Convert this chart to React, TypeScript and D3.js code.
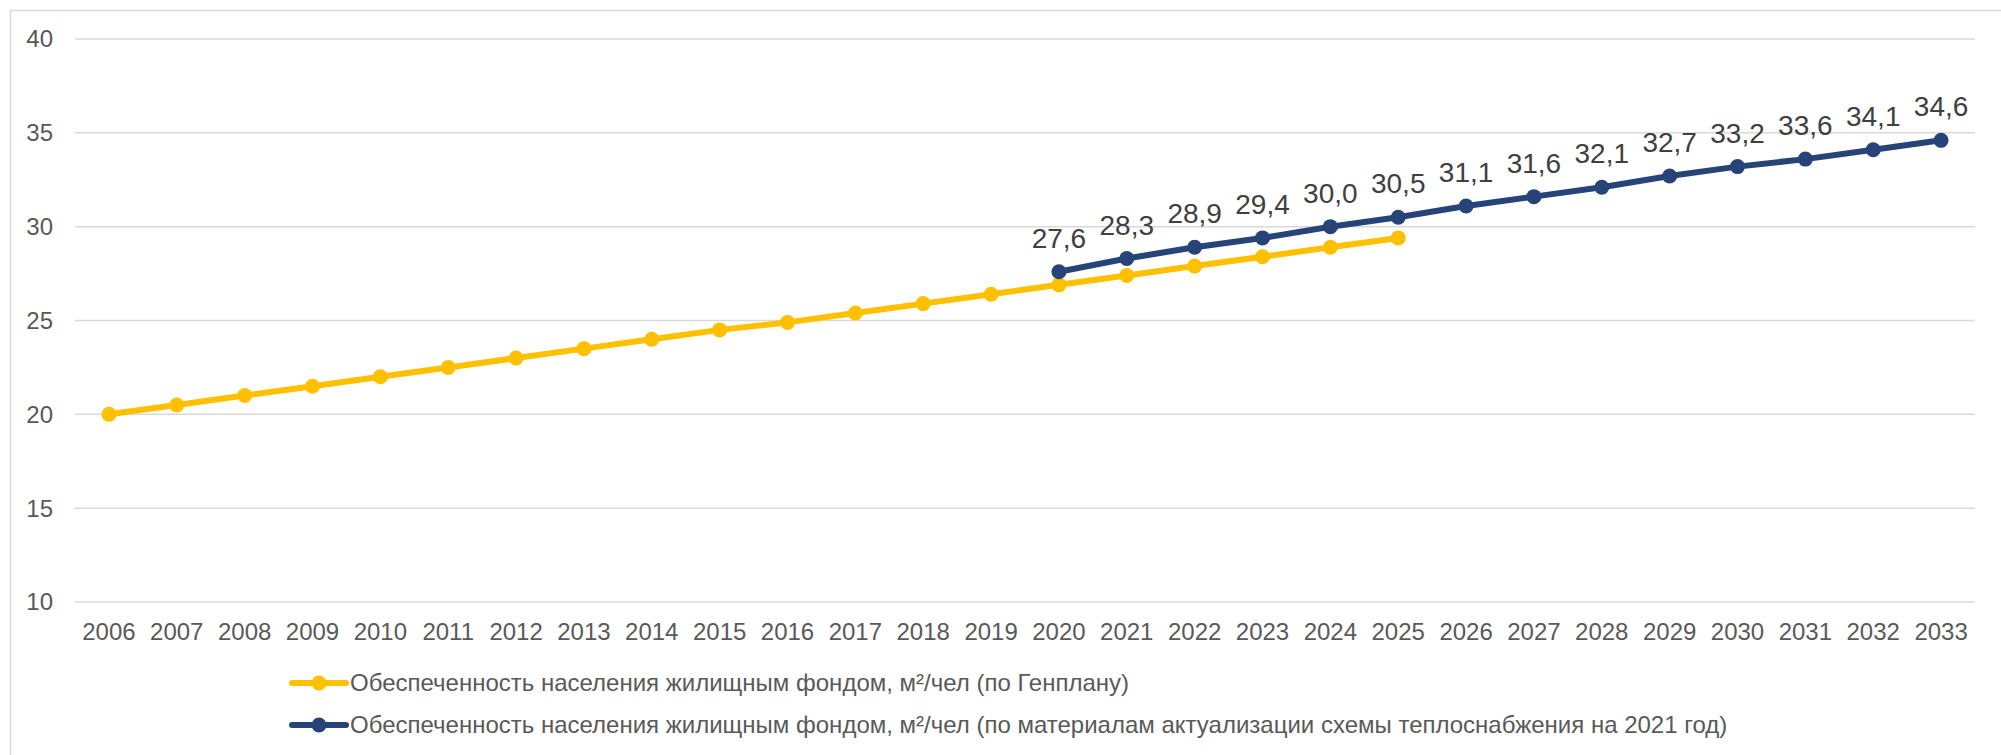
import React, { useEffect, useRef } from 'react'
import * as d3 from 'd3'

const years: string[] = d3.range(2006, 2034).map(String)

const genplanYears: string[] = d3.range(2006, 2026).map(String)
const genplanValues: number[] = [
  20.0, 20.5, 21.0, 21.5, 22.0, 22.5, 23.0, 23.5, 24.0, 24.5,
  24.9, 25.4, 25.9, 26.4, 26.9, 27.4, 27.9, 28.4, 28.9, 29.4
]

const heatYears: string[] = d3.range(2020, 2034).map(String)
const heatValues: number[] = [
  27.6, 28.3, 28.9, 29.4, 30.0, 30.5, 31.1, 31.6, 32.1, 32.7, 33.2, 33.6, 34.1, 34.6
]

const yTicks: number[] = [10, 15, 20, 25, 30, 35, 40]

const legendLabels: string[] = [
  'Обеспеченность населения жилищным фондом, м²/чел (по Генплану)',
  'Обеспеченность населения жилищным фондом, м²/чел (по материалам актуализации схемы теплоснабжения на 2021 год)'
]

const YELLOW = '#FFC000'
const NAVY = '#264478'

const W = 2001
const H = 755

interface Pt { year: string; value: number }

const App: React.FC = () => {
  const svgRef = useRef<SVGSVGElement>(null)

  useEffect(() => {
    if (!svgRef.current) return
    const svg = d3.select(svgRef.current)
    svg.selectAll('*').remove()

    const font = '"Liberation Sans", Arial, sans-serif'

    // outer frame (only left and top edges visible)
    svg.append('rect')
      .attr('x', 10.5).attr('y', 10.5)
      .attr('width', W).attr('height', H + 50)
      .attr('fill', '#fff')
      .attr('stroke', '#d9d9d9').attr('stroke-width', 1.5)

    const x = d3.scaleBand<string>()
      .domain(years)
      .range([75, 1975])

    const y = d3.scaleLinear()
      .domain([10, 40])
      .range([602, 39])

    const g = svg.append('g').style('font-family', font)

    // gridlines
    g.selectAll('.grid')
      .data(yTicks)
      .enter()
      .append('line')
      .attr('x1', 75).attr('x2', 1975)
      .attr('y1', d => y(d)).attr('y2', d => y(d))
      .attr('stroke', '#d9d9d9').attr('stroke-width', 1.5)

    // y labels
    g.selectAll('.ylab')
      .data(yTicks)
      .enter()
      .append('text')
      .attr('x', 53)
      .attr('y', d => y(d))
      .attr('dy', '0.35em')
      .attr('text-anchor', 'end')
      .style('font-size', '24px')
      .style('fill', '#595959')
      .text(d => d)

    // x labels
    g.selectAll('.xlab')
      .data(years)
      .enter()
      .append('text')
      .attr('x', d => (x(d) || 0) + x.bandwidth() / 2)
      .attr('y', 640)
      .attr('text-anchor', 'middle')
      .style('font-size', '24px')
      .style('fill', '#595959')
      .text(d => d)

    const cx = (d: Pt) => (x(d.year) || 0) + x.bandwidth() / 2
    const line = d3.line<Pt>().x(cx).y(d => y(d.value))

    const series = [
      { data: genplanYears.map((yr, i) => ({ year: yr, value: genplanValues[i] })), color: YELLOW, labels: false },
      { data: heatYears.map((yr, i) => ({ year: yr, value: heatValues[i] })), color: NAVY, labels: true }
    ]

    series.forEach(s => {
      g.append('path')
        .datum(s.data)
        .attr('fill', 'none')
        .attr('stroke', s.color)
        .attr('stroke-width', 6)
        .attr('stroke-linejoin', 'round')
        .attr('d', line)

      g.selectAll(null)
        .data(s.data)
        .enter()
        .append('circle')
        .attr('cx', cx)
        .attr('cy', d => y(d.value))
        .attr('r', 7.5)
        .attr('fill', s.color)

      if (s.labels) {
        g.selectAll(null)
          .data(s.data)
          .enter()
          .append('text')
          .attr('x', cx)
          .attr('y', d => y(d.value) - 24)
          .attr('text-anchor', 'middle')
          .style('font-size', '28px')
          .style('fill', '#404040')
          .text(d => d.value.toFixed(1).replace('.', ','))
      }
    })

    // legend
    const legend = g.append('g')
    const rows = [683, 725]
    legendLabels.forEach((lab, i) => {
      const color = i === 0 ? YELLOW : NAVY
      const row = legend.append('g').attr('transform', `translate(0,${rows[i]})`)
      row.append('line')
        .attr('x1', 292).attr('x2', 346)
        .attr('stroke', color).attr('stroke-width', 6)
        .attr('stroke-linecap', 'round')
      row.append('circle').attr('cx', 319).attr('r', 7.5).attr('fill', color)
      row.append('text')
        .attr('x', 350)
        .attr('dy', '0.35em')
        .style('font-size', '24px')
        .style('fill', '#595959')
        .text(lab)
    })
  }, [])

  return (
    <svg
      ref={svgRef}
      width={W}
      height={H}
      style={{ position: 'absolute', left: 0, top: 0, background: '#fff' }}
    />
  )
}

export default App
